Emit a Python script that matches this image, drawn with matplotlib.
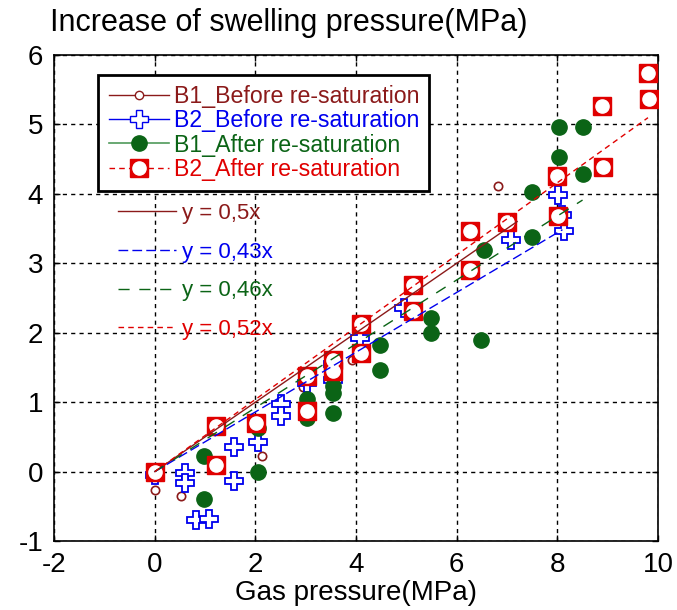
import matplotlib
matplotlib.use("Agg")
import matplotlib.pyplot as plt
from matplotlib.lines import Line2D
from matplotlib.legend_handler import HandlerTuple

plt.rcParams['font.family'] = ['Liberation Sans', 'DejaVu Sans']
plt.rcParams['axes.unicode_minus'] = False

# B1 before re-saturation (open brown circles)
b1_before_x = [0.0, 0.52, 2.13, 2.95, 3.92, 6.82]
b1_before_y = [-0.27, -0.35, 0.22, 1.22, 1.60, 4.11]

# B2 before re-saturation (blue crosses)
b2_before_x = [0.0, 0.60, 0.60, 0.82, 1.08, 1.58, 1.58, 2.06, 2.51, 2.51, 3.02,
               3.54, 3.54, 4.07, 4.96, 7.07, 8.02, 8.10, 8.13]
b2_before_y = [-0.05, -0.02, -0.17, -0.69, -0.68, 0.35, -0.14, 0.42, 0.98, 0.80, 1.28,
               1.55, 1.32, 1.93, 2.36, 3.34, 3.99, 3.70, 3.46]

# B1 after re-saturation (green dots)
b1_after_x = [0.98, 0.98, 2.06, 2.06, 3.02, 3.02, 3.54, 3.54, 3.54, 4.48, 4.48,
              5.48, 5.48, 6.49, 6.54, 7.49, 7.49, 8.04, 8.04, 8.50, 8.50]
b1_after_y = [0.23, -0.40, 0.00, 0.63, 1.04, 0.77, 1.23, 1.13, 0.84, 1.83, 1.47,
              2.21, 2.00, 1.90, 3.19, 4.03, 3.38, 4.96, 4.53, 4.96, 4.29]

# B2 after re-saturation (red squares)
b2_after_x = [0.0, 1.22, 1.22, 2.01, 3.02, 3.02, 3.54, 3.54, 4.10, 4.10, 5.13,
              5.13, 6.27, 6.27, 6.99, 8.02, 8.00, 8.88, 8.90, 9.81, 9.83]
b2_after_y = [0.00, 0.65, 0.09, 0.70, 1.38, 0.87, 1.61, 1.45, 2.13, 1.71, 2.69,
              2.31, 3.47, 2.91, 3.59, 3.68, 4.26, 5.27, 4.38, 5.74, 5.37]

# linear fits: slope, x range end, label
fit_slopes = [0.5, 0.43, 0.46, 0.52]
fit_xmax = [7.2, 8.1, 8.5, 9.8]
fit_labels = ['y = 0,5x', 'y = 0,43x', 'y = 0,46x', 'y = 0,52x']

c_brown = '#8b1a1a'
c_blue = '#0000ee'
c_green = '#0b6416'
c_red = '#e00000'
fit_colors = [c_brown, c_blue, c_green, c_red]
fit_styles = ['-', (0, (7, 3)), (0, (8, 7)), (0, (4, 3))]

fig = plt.figure(figsize=(6.77, 6.10), dpi=100)
ax = fig.add_axes([0.080, 0.113, 0.892, 0.797])

ax.plot(b1_before_x, b1_before_y, 'o', ls='none', ms=6, mfc='white', mec=c_brown, mew=1.2, zorder=3)
ax.plot(b2_before_x, b2_before_y, 'P', ls='none', ms=12.5, mfc='white', mec=c_blue, mew=1.3, zorder=3)
ax.plot(b1_after_x, b1_after_y, 'o', ls='none', ms=11, mfc=c_green, mec=c_green, zorder=4)
ax.plot(b2_after_x, b2_after_y, 's', ls='none', ms=12.5, mfc=c_red, mec=c_red, zorder=5)
ax.plot(b2_after_x, b2_after_y, 'o', ls='none', ms=9.5, mfc='white', mec='white', zorder=6)

fit_handles = []
for k, xm, col, st in zip(fit_slopes, fit_xmax, fit_colors, fit_styles):
    h, = ax.plot([0, xm], [0, k * xm], color=col, ls=st, lw=1, zorder=7)
    fit_handles.append(h)

ax.set_xlim(-2, 10)
ax.set_ylim(-1, 6)
ax.set_xticks([-2, 0, 2, 4, 6, 8, 10])
ax.set_yticks([-1, 0, 1, 2, 3, 4, 5, 6])
ax.tick_params(direction='in', length=4, width=1, top=True, right=True,
               labelsize=20, pad=8)
ax.grid(True, color='black', ls=(0, (3, 3)), lw=1)
for s in ax.spines.values():
    s.set_linewidth(1.2)

h1 = Line2D([], [], color=c_brown, lw=1, marker='o', ms=6, mfc='white', mec=c_brown)
h2 = Line2D([], [], color=c_blue, lw=1, marker='P', ms=12.5, mfc='white', mec=c_blue)
h3 = Line2D([], [], color='#4f9a5a', lw=1.2, marker='o', ms=11, mfc=c_green, mec=c_green)
h4a = Line2D([], [], color=c_red, lw=1, ls=(0, (4, 3)), marker='s', ms=12.5, mfc=c_red, mec=c_red)
h4b = Line2D([], [], ls='none', marker='o', ms=9.5, mfc='white', mec='white')
leg1 = ax.legend([h1, h2, h3, (h4a, h4b)],
                 ['B1_Before re-saturation', 'B2_Before re-saturation',
                  'B1_After re-saturation', 'B2_After re-saturation'],
                 handler_map={tuple: HandlerTuple(ndivide=1, pad=0)},
                 loc='upper left', bbox_to_anchor=(0.0728, 0.959), borderaxespad=0,
                 fontsize=16.7, frameon=True, fancybox=False, framealpha=1,
                 edgecolor='black', labelspacing=0.05, handlelength=2.6,
                 handletextpad=0.2, borderpad=0.45)
leg1.get_frame().set_linewidth(2)
for t, c in zip(leg1.get_texts(), [c_brown, c_blue, c_green, c_red]):
    t.set_color(c)
ax.add_artist(leg1)

leg2 = ax.legend(fit_handles, fit_labels, loc='upper left',
                 bbox_to_anchor=(0.091, 0.714), borderaxespad=0, fontsize=16,
                 frameon=False, labelspacing=0.8, handlelength=2.6,
                 handletextpad=0.27)
for t, c in zip(leg2.get_texts(), fit_colors):
    t.set_color(c)

fig.text(50 / 677, 0.963, 'Increase of swelling pressure(MPa)', fontsize=22,
         ha='left', va='center')
ax.set_xlabel('Gas pressure(MPa)', fontsize=20, labelpad=1)

fig.savefig('out.png', dpi=100)
